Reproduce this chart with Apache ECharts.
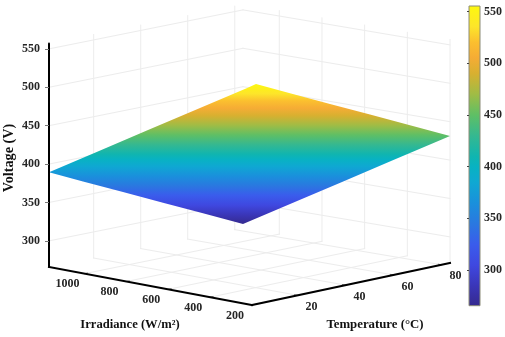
<!DOCTYPE html>
<html>
<head>
<meta charset="utf-8">
<style>html,body{margin:0;padding:0;background:#fff}#chart{width:505px;height:337px;filter:blur(0.4px)}</style>
<script src="https://cdn.jsdelivr.net/npm/echarts@6/dist/echarts.min.js"></script>
</head>
<body>
<div id="chart"></div>
<script>
// ---------- data ----------
const irradianceTicks = [1000, 800, 600, 400, 200];
const temperatureTicks = [20, 40, 60, 80];
const voltageTicks = [300, 350, 400, 450, 500, 550];
const colorbarTicks = [300, 350, 400, 450, 500, 550];

const surfaceIrradiance = [200, 400, 600, 800, 1000, 1170];
const surfaceTemperature = [1, 20, 40, 60, 80, 83.5];
// rows follow surfaceIrradiance, columns follow surfaceTemperature
const surfaceVoltage = [
  [266, 308, 352, 396, 440, 448],
  [288, 330, 374, 418, 462, 470],
  [310, 352, 396, 440, 484, 492],
  [332, 374, 418, 462, 506, 514],
  [354, 396, 440, 484, 528, 536],
  [373, 415, 459, 503, 547, 555]
];

const colorValues = [266, 285, 305, 325, 345, 365, 385, 400, 410, 430, 450, 470, 490, 505, 520, 535, 555];
const colorHexes = ['#352a8f', '#3a36b8', '#3f48e0', '#3a5cec', '#2a78e0', '#1a90dc', '#0fa8d2', '#08b2c2', '#10b5b0',
  '#35b890', '#5fbf65', '#a0bc45', '#d8b030', '#f5ac35', '#fbbf2f', '#fde52a', '#fdf80f'];

// ---------- axis ranges ----------
const irrMin = 200, irrMax = 1170, tMin = 1, tMax = 83.5;
const zMin = 266, zMax = 557;
const barMin = 265.5, barMax = 555.5;

// ---------- view: how the 3-D box lands on the page ----------
const floorX = { a: 49, b: 252, c: 450, d: 243 };   // high-irr/low-T, low/low, low/high, high/high
const floorY = { a: 267, b: 305, c: 263, d: 228 };
const zScale = 0.768;
const surfX = { a: 49, b: 243, c: 450, d: 256 };
const surfBaseY = 224, surfScale = 0.484;

function bilinear(k, irr, t) {
  const u = (irr - irrMin) / (irrMax - irrMin), w = (t - tMin) / (tMax - tMin);
  return k.b * (1 - u) * (1 - w) + k.a * u * (1 - w) + k.c * (1 - u) * w + k.d * u * w;
}
function project(irr, t, z) {
  return [bilinear(floorX, irr, t), bilinear(floorY, irr, t) - zScale * (z - zMin)];
}
function projectSurface(irr, t, v) {
  return [bilinear(surfX, irr, t), surfBaseY - surfScale * (v - zMin)];
}

// ---------- derived line lists ----------
const gridLines = [];
voltageTicks.forEach(z => {
  gridLines.push([[irrMax, tMin, z], [irrMax, tMax, z]]);
  gridLines.push([[irrMax, tMax, z], [irrMin, tMax, z]]);
});
temperatureTicks.forEach(t => {
  gridLines.push([[irrMax, t, zMin], [irrMax, t, zMax]]);
  gridLines.push([[irrMin, t, zMin], [irrMax, t, zMin]]);
});
irradianceTicks.forEach(irr => {
  gridLines.push([[irr, tMax, zMin], [irr, tMax, zMax]]);
  gridLines.push([[irr, tMin, zMin], [irr, tMax, zMin]]);
});
const axisLines = [
  [[irrMax, tMin, zMin], [irrMin, tMin, zMin]],
  [[irrMin, tMin, zMin], [irrMin, tMax, zMin]]
];
const tickLines = [];
irradianceTicks.forEach(irr => tickLines.push([[irr, tMin, zMin], [irr, tMin + 1.2, zMin]]));
temperatureTicks.forEach(t => tickLines.push([[irrMin, t, zMin], [irrMin + 15, t, zMin]]));

// walk round the edge of the voltage matrix
const nI = surfaceIrradiance.length, nT = surfaceTemperature.length;
const perimeter = [];
for (let j = 0; j < nT; j++) perimeter.push([0, j]);
for (let i = 1; i < nI; i++) perimeter.push([i, nT - 1]);
for (let j = nT - 2; j >= 0; j--) perimeter.push([nI - 1, j]);
for (let i = nI - 2; i > 0; i--) perimeter.push([i, 0]);

const labelFont = 'bold 12px "Liberation Serif"';
const ink = '#262626';

function lineSeries(name, list, color, width, z) {
  return {
    type: 'custom', name, coordinateSystem: 'cartesian2d', xAxisIndex: 0, yAxisIndex: 0, silent: true, z,
    clip: false, data: list.map((_, i) => i),
    encode: { x: [], y: [] },
    renderItem(params, api) {
      const s = list[params.dataIndex];
      const p = api.coord(project(s[0][0], s[0][1], s[0][2]));
      const q = api.coord(project(s[1][0], s[1][1], s[1][2]));
      return { type: 'line', shape: { x1: p[0], y1: p[1], x2: q[0], y2: q[1] },
        style: { stroke: color, lineWidth: width, lineCap: 'square' } };
    }
  };
}
function labelSeries(name, values, pos, dx, dy) {
  return {
    type: 'custom', name, coordinateSystem: 'cartesian2d', xAxisIndex: 0, yAxisIndex: 0, silent: true, z: 6,
    clip: false, data: values, encode: { x: [], y: [] },
    renderItem(params, api) {
      const p = api.coord(pos(values[params.dataIndex]));
      return { type: 'text', style: { text: String(values[params.dataIndex]), x: p[0] + dx, y: p[1] + dy,
        font: labelFont, fill: ink, align: 'center', verticalAlign: 'middle' } };
    }
  };
}
function colorStops() {
  const lo = colorValues[0], hi = colorValues[colorValues.length - 1];
  return colorValues.map((val, i) => ({ offset: (val - lo) / (hi - lo), color: colorHexes[i] }));
}

const surfaceSeries = {
  type: 'custom', name: 'Voltage surface', coordinateSystem: 'cartesian2d', xAxisIndex: 0, yAxisIndex: 0,
  silent: true, z: 3, clip: false, data: [0], encode: { x: [], y: [] },
  renderItem(params, api) {
    const pts = perimeter.map(([a, b]) => api.coord(projectSurface(surfaceIrradiance[a], surfaceTemperature[b], surfaceVoltage[a][b])));
    const lowPt = api.coord(projectSurface(irrMin, tMin, colorValues[0]));
    const highPt = api.coord(projectSurface(irrMin, tMin, colorValues[colorValues.length - 1]));
    return { type: 'polygon', shape: { points: pts },
      style: { fill: new echarts.graphic.LinearGradient(0, lowPt[1], 0, highPt[1], colorStops(), true) } };
  }
};

const colorbarSeries = {
  type: 'custom', name: 'Colorbar', coordinateSystem: 'cartesian2d', xAxisIndex: 2, yAxisIndex: 2, silent: true, z: 2,
  data: [0], encode: { x: [], y: [] }, clip: false,
  renderItem(params, api) {
    const p = api.coord([0, barMax]), q = api.coord([1, barMin]);
    const stops = colorValues.map((val, i) => ({ offset: Math.max(0, Math.min(1, (barMax - val) / (barMax - barMin))), color: colorHexes[i] })).reverse();
    return { type: 'rect', shape: { x: p[0], y: p[1], width: q[0] - p[0], height: q[1] - p[1] },
      style: { fill: new echarts.graphic.LinearGradient(0, 0, 0, 1, stops), stroke: '#8c8c78', lineWidth: 1 } };
  }
};

const hiddenX = (gridIndex, max) => ({ type: 'value', gridIndex, min: 0, max, show: false });

const option = {
  backgroundColor: '#fff',
  animation: false,
  grid: [
    { left: 0, top: 0, width: 505, height: 337 },
    { left: 49, top: 43.5, width: 1, height: 223.5 },
    { left: 469, top: 6, width: 12, height: 299.7 }
  ],
  xAxis: [hiddenX(0, 505), hiddenX(1, 1), hiddenX(2, 1)],
  yAxis: [
    { type: 'value', gridIndex: 0, min: 0, max: 337, inverse: true, show: false },
    { type: 'value', gridIndex: 1, min: zMin, max: zMax, position: 'left', z: 8,
      axisLine: { show: true, onZero: false, lineStyle: { color: '#000', width: 2 } },
      axisTick: { show: true, length: 4, lineStyle: { color: '#777', width: 1 }, customValues: voltageTicks },
      axisLabel: { show: true, margin: 9, color: ink, fontFamily: 'Liberation Serif', fontWeight: 'bold', fontSize: 12, customValues: voltageTicks, showMinLabel: true, showMaxLabel: true },
      splitLine: { show: false }
    },
    { type: 'value', gridIndex: 2, min: barMin, max: barMax, position: 'right', z: 8,
      axisLine: { show: false },
      axisTick: { show: true, inside: true, length: 2, lineStyle: { color: '#444', width: 1 }, customValues: colorbarTicks },
      axisLabel: { show: true, margin: 4, color: ink, fontFamily: 'Liberation Serif', fontWeight: 'bold', fontSize: 12, customValues: colorbarTicks },
      splitLine: { show: false }
    }
  ],
  graphic: [
    { type: 'text', x: 130, y: 325, silent: true, style: { text: 'Irradiance (W/m²)', font: 'bold 12.6px "Liberation Serif"', fill: '#111', align: 'center', verticalAlign: 'middle' } },
    { type: 'text', x: 375, y: 325, silent: true, style: { text: 'Temperature (°C)', font: 'bold 12.8px "Liberation Serif"', fill: '#111', align: 'center', verticalAlign: 'middle' } },
    { type: 'text', x: 9, y: 158, rotation: Math.PI / 2, silent: true, style: { text: 'Voltage (V)', font: 'bold 14.2px "Liberation Serif"', fill: '#111', align: 'center', verticalAlign: 'middle' } }
  ],
  series: [
    lineSeries('Grid', gridLines, '#ececec', 1, 1),
    surfaceSeries,
    lineSeries('Axes', axisLines, '#000', 2, 5),
    lineSeries('Ticks', tickLines, '#777', 1, 4),
    labelSeries('Irradiance ticks', irradianceTicks, irr => project(irr, tMin, zMin), -17, 10.5),
    labelSeries('Temperature ticks', temperatureTicks, t => project(irrMin, t, zMin), 14, 11.5),
    colorbarSeries
  ]
};
echarts.init(document.getElementById('chart'), null, { renderer: 'canvas' }).setOption(option);
</script>
</body>
</html>
